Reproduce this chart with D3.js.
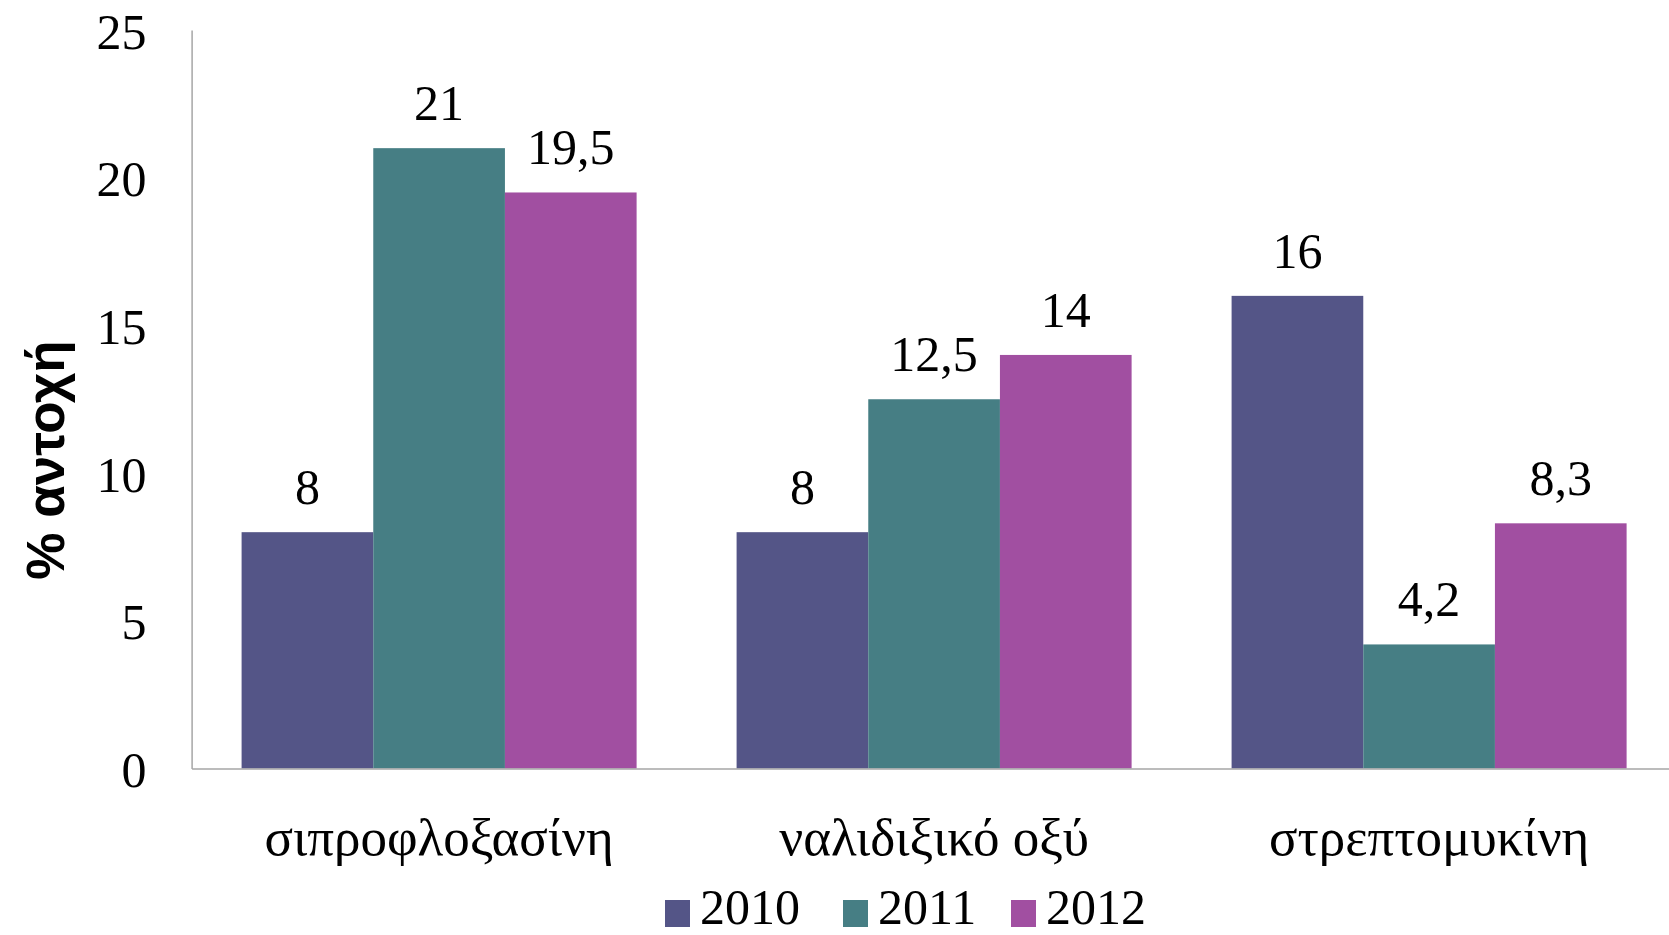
<!DOCTYPE html>
<html>
<head>
<meta charset="utf-8">
<script src="https://cdn.jsdelivr.net/npm/d3@7"></script>
<style>
html,body{margin:0;padding:0;background:#fff;}
svg{display:block;}
</style>
</head>
<body>
<svg id="chart" width="1669" height="935"></svg>
<script>
const categories = ["σιπροφλοξασίνη", "ναλιδιξικό οξύ", "στρεπτομυκίνη"];
const seriesNames = ["2010", "2011", "2012"];
const values2010 = [8, 8, 16];
const values2011 = [21, 12.5, 4.2];
const values2012 = [19.5, 14, 8.3];
const valueLabels2010 = ["8", "8", "16"];
const valueLabels2011 = ["21", "12,5", "4,2"];
const valueLabels2012 = ["19,5", "14", "8,3"];
const yTicks = [0, 5, 10, 15, 20, 25];
const colors = ["#545587", "#467e84", "#a14fa1"];

const series = [
  {name: seriesNames[0], values: values2010, labels: valueLabels2010},
  {name: seriesNames[1], values: values2011, labels: valueLabels2011},
  {name: seriesNames[2], values: values2012, labels: valueLabels2012}
];

const svg = d3.select("#chart");
const plotLeft = 191.6, plotRight = 1676.6, plotTop = 30, plotBottom = 768.5;
const serif = "'Liberation Serif', 'DejaVu Serif', serif";
const numSize = 50;

const x0 = d3.scaleBand().domain(categories).range([plotLeft, plotRight])
  .paddingInner(0.202).paddingOuter(0.101);
const x1 = d3.scaleBand().domain(seriesNames).range([0, x0.bandwidth()]);
const y = d3.scaleLinear().domain([0, 25]).range([plotBottom, plotTop]);

// bars
const groups = svg.append("g").selectAll("g").data(categories).join("g")
  .attr("transform", d => `translate(${x0(d)},0)`);
const cellData = (c, i) => series.map((s, si) => ({s: s.name, v: s.values[i], l: s.labels[i], si}));
groups.selectAll("rect")
  .data(cellData)
  .join("rect")
  .attr("x", d => x1(d.s))
  .attr("y", d => y(d.v))
  .attr("width", x1.bandwidth())
  .attr("height", d => y(0) - y(d.v))
  .attr("fill", d => colors[d.si]);
groups.selectAll("text.val")
  .data(cellData)
  .join("text").attr("class", "val")
  .attr("x", d => x1(d.s) + x1.bandwidth() / 2)
  .attr("y", d => y(d.v) - 28)
  .attr("text-anchor", "middle")
  .attr("font-family", serif).attr("font-size", numSize).attr("fill", "#000")
  .text(d => d.l);

// axes
const yAxis = d3.axisLeft(y).tickValues(yTicks).tickSize(0).tickPadding(45);
const gy = svg.append("g").attr("transform", `translate(${plotLeft},0)`).call(yAxis);
gy.select(".domain").attr("stroke", "#a6a6a6").attr("stroke-width", 1.5);
gy.selectAll("text").attr("font-family", serif).attr("font-size", numSize)
  .attr("fill", "#000").attr("dy", "0.36em");

const xAxis = d3.axisBottom(x0).tickSize(0).tickPadding(0);
const gx = svg.append("g").attr("transform", `translate(0,${plotBottom})`).call(xAxis);
gx.select(".domain").attr("stroke", "#a6a6a6").attr("stroke-width", 1.5);
gx.selectAll("text").attr("font-family", serif).attr("font-size", 53)
  .attr("fill", "#000").attr("dy", null).attr("y", 86);

// y title
svg.append("text")
  .attr("transform", `translate(64,460) rotate(-90)`)
  .attr("text-anchor", "middle")
  .attr("font-family", "'Liberation Sans', Arial, sans-serif")
  .attr("font-weight", "bold").attr("font-size", 53).attr("fill", "#000")
  .text("% αντοχή");

// legend
const legendX = [665, 843, 1011];
const lg = svg.append("g").selectAll("g").data(series).join("g")
  .attr("transform", (d, i) => `translate(${legendX[i]},0)`);
lg.append("rect").attr("x", 0).attr("y", 900).attr("width", 25).attr("height", 27)
  .attr("fill", (d, i) => colors[i]);
lg.append("text").attr("x", 35).attr("y", 924)
  .attr("font-family", serif).attr("font-size", numSize).attr("fill", "#000")
  .text(d => d.name);
</script>
</body>
</html>
